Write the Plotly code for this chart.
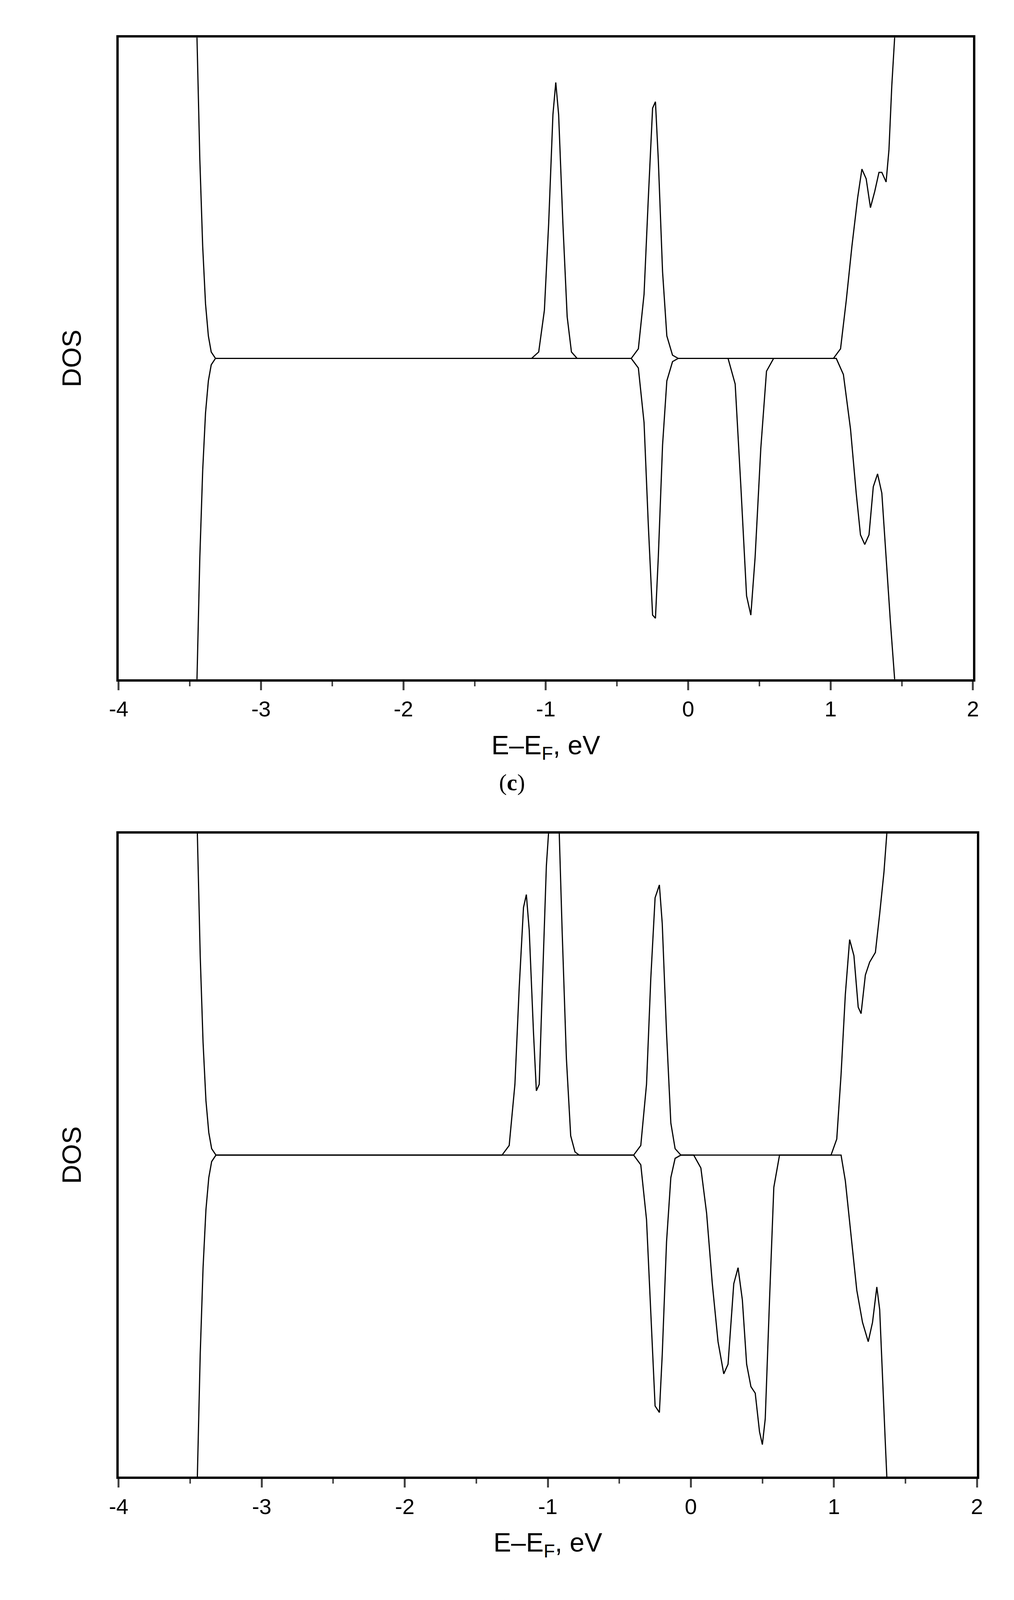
import plotly.graph_objects as go

# Panel (c): spin-up (positive) and spin-down (negative) DOS
c_up_x = [-3.46, -3.45, -3.43, -3.41, -3.39, -3.37, -3.35, -3.32, -1.10, -1.05, -1.01, -0.98,
          -0.95, -0.93, -0.91, -0.88, -0.85, -0.82, -0.78, -0.40, -0.35, -0.31, -0.28, -0.25,
          -0.23, -0.21, -0.18, -0.15, -0.11, -0.07, 1.02, 1.07, 1.11, 1.15, 1.19, 1.22, 1.25,
          1.28, 1.31, 1.34, 1.36, 1.39, 1.41, 1.43, 1.45, 1.46]
c_up_y = [1.10, 1.00, 0.62, 0.35, 0.17, 0.07, 0.02, 0.0, 0.0, 0.02, 0.15, 0.42, 0.76, 0.86, 0.76,
          0.42, 0.13, 0.02, 0.0, 0.0, 0.03, 0.20, 0.50, 0.78, 0.80, 0.62, 0.27, 0.07, 0.01, 0.0,
          0.0, 0.03, 0.18, 0.35, 0.50, 0.59, 0.56, 0.47, 0.52, 0.58, 0.58, 0.55, 0.65, 0.85,
          1.00, 1.10]
c_dn_x = [-3.46, -3.45, -3.43, -3.41, -3.39, -3.37, -3.35, -3.32, -0.40, -0.35, -0.31, -0.28,
          -0.25, -0.23, -0.21, -0.18, -0.15, -0.11, -0.07, 0.28, 0.33, 0.37, 0.41, 0.44, 0.47,
          0.51, 0.55, 0.60, 1.04, 1.09, 1.14, 1.18, 1.21, 1.24, 1.27, 1.30, 1.33, 1.36, 1.39,
          1.42, 1.45, 1.46]
c_dn_y = [-1.10, -1.00, -0.62, -0.35, -0.17, -0.07, -0.02, 0.0, 0.0, -0.03, -0.20, -0.52,
          -0.80, -0.81, -0.62, -0.27, -0.07, -0.01, 0.0, 0.0, -0.08, -0.40, -0.74, -0.80,
          -0.62, -0.28, -0.04, 0.0, 0.0, -0.05, -0.22, -0.42, -0.55, -0.58, -0.55, -0.40,
          -0.36, -0.42, -0.62, -0.82, -1.00, -1.10]

# Panel (d)
d_up_x = [-3.46, -3.45, -3.43, -3.41, -3.39, -3.37, -3.35, -3.32, -1.32, -1.27, -1.23, -1.20,
          -1.17, -1.15, -1.13, -1.10, -1.08, -1.06, -1.04, -1.01, -0.98, -0.95, -0.92, -0.90,
          -0.87, -0.84, -0.81, -0.78, -0.40, -0.35, -0.31, -0.28, -0.25, -0.22, -0.20, -0.17,
          -0.14, -0.11, -0.07, 0.98, 1.02, 1.05, 1.08, 1.11, 1.14, 1.17, 1.19, 1.22, 1.25,
          1.29, 1.32, 1.35, 1.37, 1.38]
d_up_y = [1.10, 1.00, 0.62, 0.35, 0.17, 0.07, 0.02, 0.0, 0.0, 0.03, 0.22, 0.52, 0.77, 0.81,
          0.70, 0.38, 0.20, 0.22, 0.50, 0.90, 1.10, 1.10, 1.00, 0.70, 0.30, 0.06, 0.01, 0.0,
          0.0, 0.03, 0.22, 0.55, 0.80, 0.84, 0.72, 0.38, 0.10, 0.02, 0.0, 0.0, 0.05, 0.25,
          0.50, 0.67, 0.62, 0.46, 0.44, 0.56, 0.60, 0.63, 0.75, 0.88, 1.00, 1.10]
d_dn_x = [-3.46, -3.45, -3.43, -3.41, -3.39, -3.37, -3.35, -3.32, -0.40, -0.35, -0.31, -0.28,
          -0.25, -0.22, -0.20, -0.17, -0.14, -0.11, -0.07, 0.02, 0.07, 0.11, 0.15, 0.19,
          0.23, 0.26, 0.30, 0.33, 0.36, 0.39, 0.42, 0.45, 0.48, 0.50, 0.52, 0.55, 0.58, 0.62,
          1.05, 1.08, 1.12, 1.16, 1.20, 1.24, 1.27, 1.30, 1.32, 1.34, 1.36, 1.37, 1.38]
d_dn_y = [-1.10, -1.00, -0.62, -0.35, -0.17, -0.07, -0.02, 0.0, 0.0, -0.03, -0.20, -0.50,
          -0.78, -0.80, -0.62, -0.27, -0.07, -0.01, 0.0, 0.0, -0.04, -0.18, -0.40, -0.58,
          -0.68, -0.65, -0.40, -0.35, -0.45, -0.65, -0.72, -0.74, -0.86, -0.90, -0.82,
          -0.45, -0.10, 0.0, 0.0, -0.08, -0.25, -0.42, -0.52, -0.58, -0.52, -0.41, -0.48,
          -0.70, -0.90, -1.00, -1.10]

x_ticks = [-4, -3, -2, -1, 0, 1, 2]
x_tick_labels = ['-4', '-3', '-2', '-1', '0', '1', '2']

line = dict(color='black', width=3, shape='linear')

fig = go.Figure()
for xs, ys, ax in [(c_up_x, c_up_y, ''), (c_dn_x, c_dn_y, ''),
                   (d_up_x, d_up_y, '2'), (d_dn_x, d_dn_y, '2')]:
    fig.add_trace(go.Scatter(x=xs, y=ys, mode='lines', line=line,
                             xaxis='x' + ax, yaxis='y' + ax,
                             showlegend=False, cliponaxis=True))

axis_font = dict(family='Liberation Sans, Arial', size=56, color='black')
title_font = dict(family='Liberation Sans, Arial', size=68, color='black')


def x_axis(domain, anchor):
    return dict(domain=domain, anchor=anchor, range=[-4, 2], tickvals=x_ticks,
                ticktext=x_tick_labels, ticks='outside', ticklen=22, tickwidth=5,
                minor=dict(dtick=0.5, ticks='outside', ticklen=12, tickwidth=4),
                showline=True, linewidth=6, linecolor='black', mirror=True,
                showgrid=False, zeroline=False, tickfont=axis_font,
                title=dict(text='E\u2013E<sub>F</sub>, eV', font=title_font, standoff=40))


def y_axis(domain, anchor):
    return dict(domain=domain, anchor=anchor, range=[-1, 1], showticklabels=False,
                ticks='', showline=True, linewidth=6, linecolor='black', mirror=True,
                showgrid=False, zeroline=False,
                title=dict(text='DOS', font=title_font, standoff=70))


fig.update_layout(
    width=2597, height=4201,
    paper_bgcolor='white', plot_bgcolor='white',
    margin=dict(l=0, r=0, t=0, b=0),
    xaxis=x_axis([0.106, 0.962], 'y'),
    yaxis=y_axis([0.588, 0.979], 'x'),
    xaxis2=x_axis([0.106, 0.966], 'y2'),
    yaxis2=y_axis([0.102, 0.494], 'x2'),
    annotations=[
        dict(text='(<b>c</b>)', x=0.5, y=0.525, xref='paper', yref='paper',
             yanchor='middle', showarrow=False,
             font=dict(family='Liberation Serif, Times New Roman', size=60, color='black')),
        dict(text='(<b>d</b>)', x=0.5, y=0.022, xref='paper', yref='paper',
             yanchor='middle', showarrow=False,
             font=dict(family='Liberation Serif, Times New Roman', size=60, color='black')),
    ],
)

fig.write_html('out.html')
